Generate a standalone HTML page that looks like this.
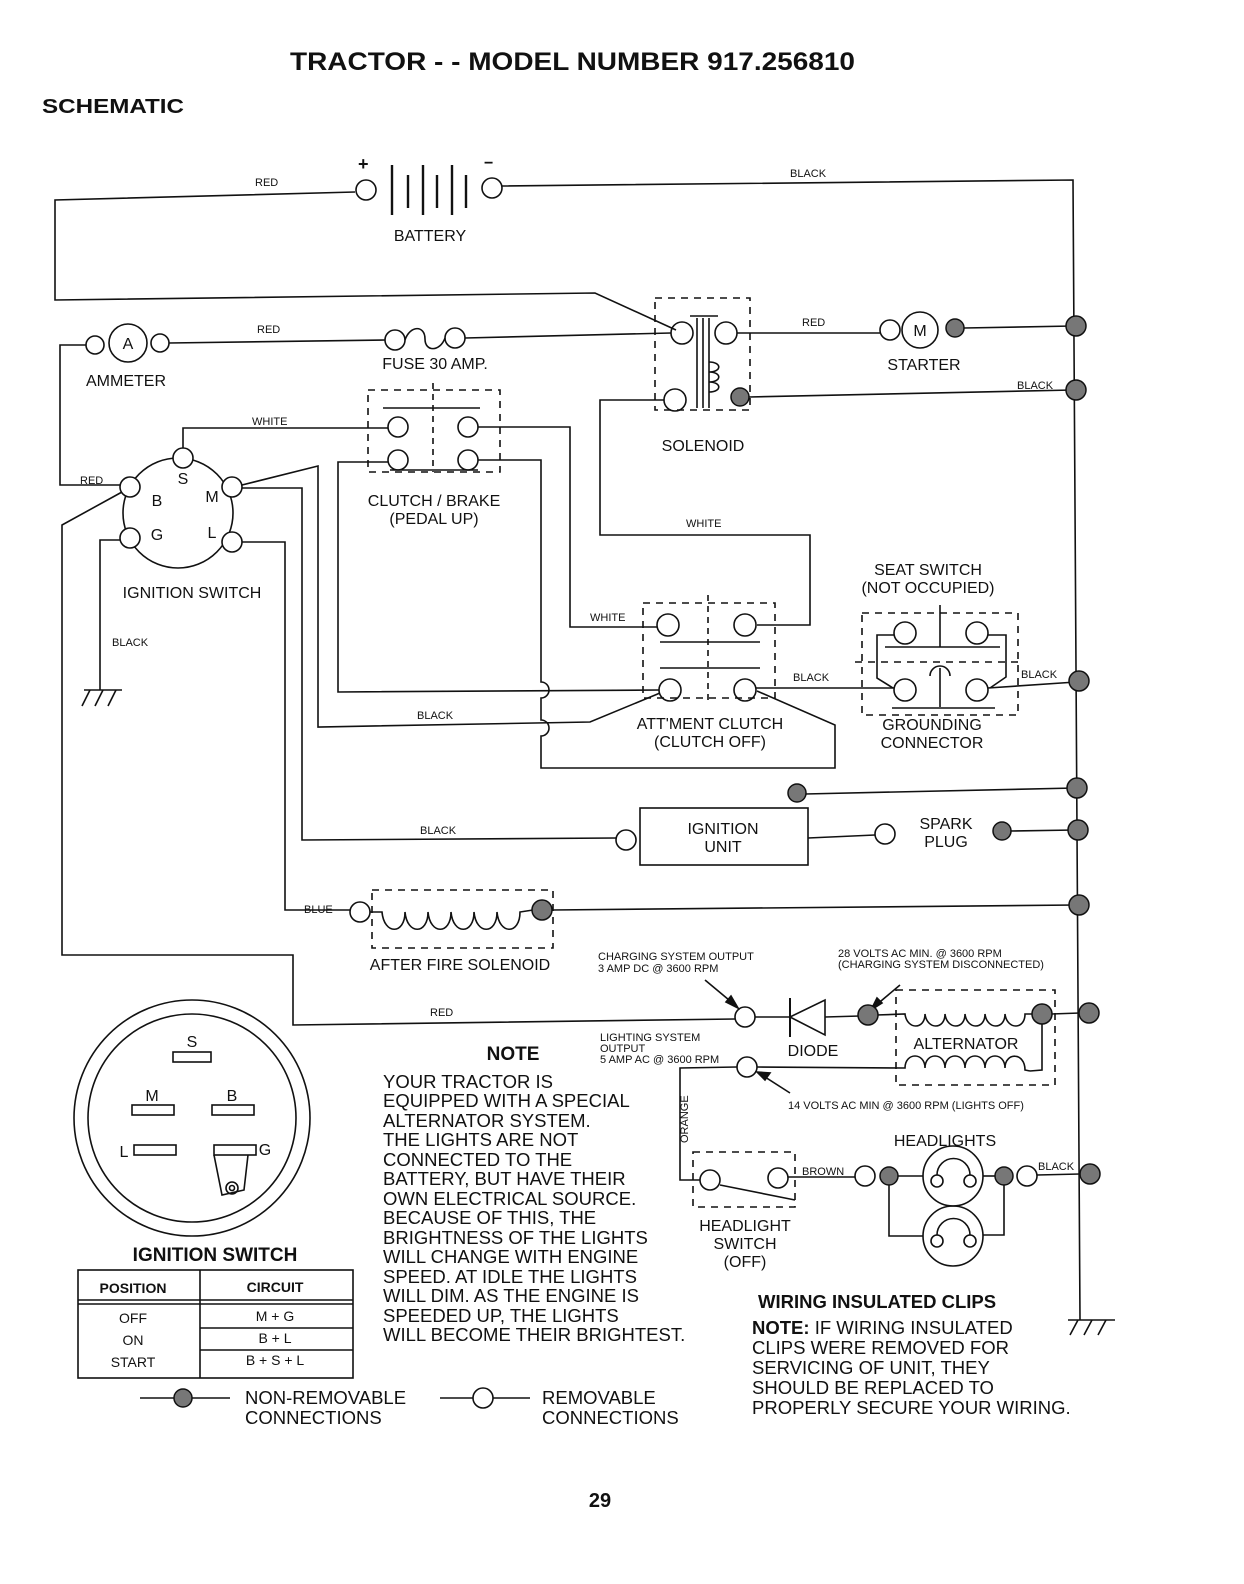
<!DOCTYPE html>
<html><head><meta charset="utf-8"><style>
html,body{margin:0;padding:0;background:#fff}
svg{display:block}
text{font-family:"Liberation Sans",sans-serif;fill:#111}
.s{font-size:11px}
.m{font-size:16px}
.n{font-size:18.5px}
</style></head><body>
<svg width="1244" height="1584" viewBox="0 0 1244 1584" xmlns="http://www.w3.org/2000/svg">
<g stroke="#111" stroke-width="1.6" fill="none">
<polyline points="355,192 55,200 55,300 595,293 676,330"/>
<circle cx="366" cy="190" r="10"/>
<line x1="392" y1="165" x2="392" y2="215" stroke-width="2.4"/>
<line x1="408" y1="175" x2="408" y2="208" stroke-width="2.4"/>
<line x1="423" y1="165" x2="423" y2="215" stroke-width="2.4"/>
<line x1="437" y1="175" x2="437" y2="208" stroke-width="2.4"/>
<line x1="452" y1="165" x2="452" y2="215" stroke-width="2.4"/>
<line x1="466" y1="175" x2="466" y2="208" stroke-width="2.4"/>
<circle cx="492" cy="188" r="10"/>
<polyline points="502,186 1073,180 1080,1320"/>
<line x1="1068" y1="1320" x2="1115" y2="1320"/>
<line x1="1078" y1="1320" x2="1070" y2="1335"/><line x1="1092" y1="1320" x2="1084" y2="1335"/><line x1="1106" y1="1320" x2="1098" y2="1335"/>
<circle cx="95" cy="345" r="9"/><circle cx="128" cy="343" r="19"/><circle cx="160" cy="343" r="9"/>
<line x1="169" y1="343" x2="385" y2="340"/>
<polyline points="86,345 60,345 60,485 120,485"/>
<circle cx="395" cy="340" r="10"/><circle cx="455" cy="338" r="10"/>
<path d="M405,340 C410,325 425,325 425,339 C425,352 440,352 445,338"/>
<line x1="465" y1="338" x2="671" y2="333"/>
<rect x="655" y="298" width="95" height="112" stroke-dasharray="7,6"/>
<circle cx="682" cy="333" r="11"/><circle cx="726" cy="333" r="11"/>
<line x1="690" y1="316" x2="718" y2="316"/>
<line x1="697" y1="318" x2="697" y2="408"/><line x1="703" y1="318" x2="703" y2="408"/><line x1="709" y1="318" x2="709" y2="408"/>
<path d="M709,362 C722,362 722,372 709,372 C722,372 722,382 709,382 C722,382 722,392 709,392"/>
<circle cx="675" cy="400" r="11"/>
<polyline points="664,400 600,400 600,535 810,535 810,625 757,625"/>
<line x1="737" y1="333" x2="880" y2="333"/>
<circle cx="890" cy="330" r="10"/><circle cx="920" cy="330" r="18"/>
<line x1="964" y1="328" x2="1073" y2="326"/>
<line x1="749" y1="397" x2="1073" y2="390"/>
<rect x="368" y="390" width="132" height="82" stroke-dasharray="7,6"/>
<line x1="433" y1="383" x2="433" y2="472" stroke-dasharray="6,5"/>
<line x1="383" y1="408" x2="480" y2="408"/>
<line x1="390" y1="470" x2="478" y2="470"/>
<circle cx="398" cy="427" r="10"/><circle cx="468" cy="427" r="10"/>
<circle cx="398" cy="460" r="10"/><circle cx="468" cy="460" r="10"/>
<circle cx="178" cy="513" r="55"/>
<circle cx="183" cy="458" r="10" fill="#fff"/><circle cx="130" cy="487" r="10" fill="#fff"/><circle cx="232" cy="487" r="10" fill="#fff"/>
<circle cx="130" cy="538" r="10" fill="#fff"/><circle cx="232" cy="542" r="10" fill="#fff"/>
<polyline points="183,448 183,428 388,428"/>
<polyline points="478,427 570,427 570,627 657,627"/>
<path d="M478,460 L541,460 L541,682 A8,8 0 0 1 541,698 L541,720 A8,8 0 0 1 541,736 L541,768 L835,768 L835,725 L757,691"/>
<polyline points="388,462 338,462 338,692 659,690"/>
<polyline points="242,485 318,466 318,727 590,722 660,693"/>
<polyline points="242,488 302,488 302,840 616,838"/>
<polyline points="242,542 285,542 285,910 350,910"/>
<polyline points="120,540 100,540 100,690"/>
<line x1="84" y1="690" x2="122" y2="690"/>
<line x1="90" y1="690" x2="82" y2="706"/><line x1="103" y1="690" x2="95" y2="706"/><line x1="116" y1="690" x2="108" y2="706"/>
<polyline points="122,492 62,525 62,955 293,955 293,1025 735,1019"/>
<rect x="643" y="603" width="132" height="95" stroke-dasharray="7,6"/>
<line x1="708" y1="595" x2="708" y2="700" stroke-dasharray="6,5"/>
<line x1="660" y1="642" x2="760" y2="642"/>
<line x1="660" y1="668" x2="760" y2="668"/>
<circle cx="668" cy="625" r="11"/><circle cx="745" cy="625" r="11"/>
<circle cx="670" cy="690" r="11"/><circle cx="745" cy="690" r="11"/>
<line x1="756" y1="688" x2="894" y2="688"/>
<rect x="862" y="613" width="156" height="102" stroke-dasharray="7,6"/>
<line x1="855" y1="662" x2="1022" y2="662" stroke-dasharray="7,6"/>
<circle cx="905" cy="633" r="11"/><circle cx="977" cy="633" r="11"/>
<circle cx="905" cy="690" r="11"/><circle cx="977" cy="690" r="11"/>
<polyline points="894,635 877,635 877,678 893,688"/>
<polyline points="988,635 1006,635 1006,677 990,688"/>
<line x1="885" y1="647" x2="1000" y2="647"/>
<line x1="940" y1="605" x2="940" y2="647"/>
<path d="M930,676 A10,10 0 0 1 950,676"/>
<line x1="940" y1="668" x2="940" y2="707"/>
<line x1="892" y1="708" x2="995" y2="708"/>
<line x1="988" y1="688" x2="1076" y2="682"/>
<rect x="640" y="808" width="168" height="57"/>
<circle cx="626" cy="840" r="10"/>
<line x1="805" y1="794" x2="1075" y2="788"/>
<line x1="808" y1="838" x2="875" y2="835"/>
<circle cx="885" cy="834" r="10"/>
<line x1="1010" y1="831" x2="1075" y2="830"/>
<circle cx="360" cy="912" r="10"/>
<rect x="372" y="890" width="181" height="58" stroke-dasharray="7,6"/>
<path d="M370,912 L382,912 C384,935 405,935 405,912 C407,935 428,935 428,912 C430,935 451,935 451,912 C453,935 474,935 474,912 C476,935 497,935 497,912 C499,935 520,935 520,912 L533,910"/>
<line x1="552" y1="910" x2="1076" y2="905"/>
<circle cx="745" cy="1017" r="10"/>
<line x1="755" y1="1017" x2="790" y2="1017"/>
<line x1="790" y1="998" x2="790" y2="1037" stroke-width="2"/>
<polygon points="790,1017 825,1000 825,1035"/>
<line x1="825" y1="1017" x2="860" y2="1016"/>
<line x1="705" y1="980" x2="735" y2="1005"/>
<polygon points="738,1008 726,1002 731,996" fill="#111"/>
<line x1="900" y1="985" x2="875" y2="1006"/>
<polygon points="871,1010 877,998 882,1003" fill="#111"/>
<rect x="896" y="990" width="159" height="95" stroke-dasharray="7,6"/>
<path d="M876,1015 L905,1014 C907,1030 925,1030 925,1014 C927,1030 945,1030 945,1014 C947,1030 965,1030 965,1014 C967,1030 985,1030 985,1014 C987,1030 1005,1030 1005,1014 C1007,1030 1025,1030 1025,1014 L1033,1014"/>
<polyline points="1042,1022 1042,1070 1030,1071"/>
<path d="M757,1067 L905,1068 C905,1052 925,1052 925,1068 C925,1052 945,1052 945,1068 C945,1052 965,1052 965,1068 C965,1052 985,1052 985,1068 C985,1052 1005,1052 1005,1068 C1005,1052 1025,1052 1025,1070 L1030,1071"/>
<line x1="1051" y1="1014" x2="1080" y2="1013"/>
<circle cx="747" cy="1067" r="10"/>
<line x1="790" y1="1093" x2="762" y2="1075"/>
<polygon points="757,1072 770,1073 765,1080" fill="#111"/>
<polyline points="737,1067 680,1068 680,1180 700,1180"/>
<rect x="693" y="1152" width="102" height="55" stroke-dasharray="7,6"/>
<circle cx="710" cy="1180" r="10"/><circle cx="778" cy="1178" r="10"/>
<line x1="720" y1="1185" x2="795" y2="1200"/>
<line x1="788" y1="1177" x2="855" y2="1177"/>
<circle cx="865" cy="1176" r="10"/>
<line x1="898" y1="1176" x2="923" y2="1176"/>
<circle cx="953" cy="1176" r="30"/>
<circle cx="937" cy="1181" r="6"/><circle cx="970" cy="1181" r="6"/>
<path d="M937,1175 A16,16 0 0 1 970,1175"/>
<line x1="983" y1="1176" x2="995" y2="1176"/>
<circle cx="953" cy="1236" r="30"/>
<circle cx="937" cy="1241" r="6"/><circle cx="970" cy="1241" r="6"/>
<path d="M937,1235 A16,16 0 0 1 970,1235"/>
<polyline points="889,1185 889,1236 923,1236"/>
<polyline points="1004,1185 1004,1235 983,1235"/>
<circle cx="1027" cy="1176" r="10"/>
<line x1="1037" y1="1175" x2="1080" y2="1174"/>
<circle cx="192" cy="1118" r="118"/>
<circle cx="192" cy="1118" r="104"/>
<rect x="173" y="1052" width="38" height="10"/>
<rect x="132" y="1105" width="42" height="10"/>
<rect x="212" y="1105" width="42" height="10"/>
<rect x="134" y="1145" width="42" height="10"/>
<rect x="214" y="1145" width="42" height="10"/>
<polyline points="214,1155 222,1195 244,1190 248,1155"/>
<circle cx="232" cy="1188" r="6"/><circle cx="232" cy="1188" r="2.5"/>
<rect x="78" y="1270" width="275" height="108"/>
<line x1="200" y1="1270" x2="200" y2="1378"/>
<line x1="78" y1="1300" x2="353" y2="1300"/>
<line x1="78" y1="1304" x2="353" y2="1304"/>
<line x1="200" y1="1328" x2="353" y2="1328"/>
<line x1="200" y1="1350" x2="353" y2="1350"/>
<line x1="140" y1="1398" x2="230" y2="1398"/>
<line x1="440" y1="1398" x2="530" y2="1398"/>
<circle cx="483" cy="1398" r="10" fill="#fff"/>
</g>
<g fill="#777" stroke="#111" stroke-width="1.5">
<circle cx="740" cy="397" r="9"/><circle cx="955" cy="328" r="9"/>
<circle cx="1076" cy="326" r="10"/><circle cx="1076" cy="390" r="10"/>
<circle cx="1079" cy="681" r="10"/><circle cx="797" cy="793" r="9"/>
<circle cx="1077" cy="788" r="10"/><circle cx="1002" cy="831" r="9"/>
<circle cx="1078" cy="830" r="10"/><circle cx="542" cy="910" r="10"/>
<circle cx="1079" cy="905" r="10"/><circle cx="868" cy="1015" r="10"/>
<circle cx="1042" cy="1014" r="10"/><circle cx="1089" cy="1013" r="10"/>
<circle cx="889" cy="1176" r="9"/><circle cx="1004" cy="1176" r="9"/>
<circle cx="1090" cy="1174" r="10"/><circle cx="183" cy="1398" r="9"/>
</g>
<text x="290" y="70" textLength="565" lengthAdjust="spacingAndGlyphs" style="font-size:25px;font-weight:bold">TRACTOR - - MODEL NUMBER 917.256810</text>
<text x="42" y="113" textLength="142" lengthAdjust="spacingAndGlyphs" style="font-size:20px;font-weight:bold">SCHEMATIC</text>
<text x="358" y="170" style="font-size:18px;font-weight:bold">+</text>
<text x="484" y="168" style="font-size:16px;font-weight:bold">−</text>
<g class="s">
<text x="255" y="186">RED</text><text x="790" y="177">BLACK</text>
<text x="257" y="333">RED</text><text x="802" y="326">RED</text>
<text x="1017" y="389">BLACK</text><text x="252" y="425">WHITE</text>
<text x="80" y="484">RED</text><text x="686" y="527">WHITE</text>
<text x="590" y="621">WHITE</text><text x="112" y="646">BLACK</text>
<text x="793" y="681">BLACK</text><text x="1021" y="678">BLACK</text>
<text x="417" y="719">BLACK</text><text x="420" y="834">BLACK</text>
<text x="304" y="913">BLUE</text><text x="430" y="1016">RED</text>
<text x="598" y="960">CHARGING SYSTEM OUTPUT</text><text x="598" y="972">3 AMP DC @ 3600 RPM</text>
<text x="838" y="957">28 VOLTS AC MIN. @ 3600 RPM</text><text x="838" y="968">(CHARGING SYSTEM DISCONNECTED)</text>
<text x="600" y="1041">LIGHTING SYSTEM</text><text x="600" y="1052">OUTPUT</text><text x="600" y="1063">5 AMP AC @ 3600 RPM</text>
<text x="788" y="1109">14 VOLTS AC MIN  @ 3600 RPM (LIGHTS OFF)</text>
<text x="802" y="1175">BROWN</text><text x="1038" y="1170">BLACK</text>
<text transform="translate(688,1143) rotate(-90)">ORANGE</text>
</g>
<g class="m" text-anchor="middle">
<text x="430" y="241">BATTERY</text>
<text x="128" y="349">A</text><text x="920" y="336">M</text>
<text x="126" y="386">AMMETER</text><text x="435" y="369">FUSE 30 AMP.</text>
<text x="924" y="370">STARTER</text><text x="703" y="451">SOLENOID</text>
<text x="434" y="506">CLUTCH / BRAKE</text><text x="434" y="524">(PEDAL UP)</text>
<text x="183" y="484">S</text><text x="157" y="506">B</text><text x="212" y="502">M</text>
<text x="157" y="540">G</text><text x="212" y="538">L</text>
<text x="192" y="598">IGNITION SWITCH</text>
<text x="928" y="575">SEAT SWITCH</text><text x="928" y="593">(NOT OCCUPIED)</text>
<text x="710" y="729">ATT'MENT CLUTCH</text><text x="710" y="747">(CLUTCH OFF)</text>
<text x="932" y="730">GROUNDING</text><text x="932" y="748">CONNECTOR</text>
<text x="723" y="834">IGNITION</text><text x="723" y="852">UNIT</text>
<text x="946" y="829">SPARK</text><text x="946" y="847">PLUG</text>
<text x="460" y="970">AFTER FIRE SOLENOID</text>
<text x="813" y="1056">DIODE</text><text x="966" y="1049">ALTERNATOR</text>
<text x="945" y="1146">HEADLIGHTS</text>
<text x="745" y="1231">HEADLIGHT</text><text x="745" y="1249">SWITCH</text><text x="745" y="1267">(OFF)</text>
<text x="192" y="1047">S</text><text x="152" y="1101">M</text><text x="232" y="1101">B</text>
<text x="124" y="1157">L</text><text x="265" y="1155">G</text>
</g>
<text x="215" y="1261" text-anchor="middle" style="font-size:19px;font-weight:bold">IGNITION SWITCH</text>
<g style="font-size:14px" text-anchor="middle">
<text x="133" y="1293" style="font-weight:bold">POSITION</text><text x="275" y="1292" style="font-weight:bold">CIRCUIT</text>
<text x="133" y="1323">OFF</text><text x="275" y="1321">M + G</text>
<text x="133" y="1345">ON</text><text x="275" y="1343">B + L</text>
<text x="133" y="1367">START</text><text x="275" y="1365">B + S + L</text>
</g>
<text x="513" y="1060" text-anchor="middle" style="font-size:19px;font-weight:bold">NOTE</text>
<g class="n">
<text x="383" y="1088">YOUR TRACTOR IS</text>
<text x="383" y="1107">EQUIPPED WITH A SPECIAL</text>
<text x="383" y="1127">ALTERNATOR SYSTEM.</text>
<text x="383" y="1146">THE LIGHTS ARE NOT</text>
<text x="383" y="1166">CONNECTED TO THE</text>
<text x="383" y="1185">BATTERY, BUT HAVE THEIR</text>
<text x="383" y="1205">OWN ELECTRICAL SOURCE.</text>
<text x="383" y="1224">BECAUSE OF THIS, THE</text>
<text x="383" y="1244">BRIGHTNESS OF THE LIGHTS</text>
<text x="383" y="1263">WILL CHANGE WITH ENGINE</text>
<text x="383" y="1283">SPEED.  AT IDLE THE LIGHTS</text>
<text x="383" y="1302">WILL DIM.  AS THE ENGINE IS</text>
<text x="383" y="1322">SPEEDED UP, THE LIGHTS</text>
<text x="383" y="1341">WILL BECOME THEIR BRIGHTEST.</text>
<text x="758" y="1308" style="font-weight:bold">WIRING INSULATED CLIPS</text>
<text x="752" y="1334"><tspan style="font-weight:bold">NOTE:</tspan> IF WIRING INSULATED</text>
<text x="752" y="1354">CLIPS WERE REMOVED FOR</text>
<text x="752" y="1374">SERVICING OF UNIT, THEY</text>
<text x="752" y="1394">SHOULD BE REPLACED TO</text>
<text x="752" y="1414">PROPERLY SECURE YOUR WIRING.</text>
<text x="245" y="1404">NON-REMOVABLE</text><text x="245" y="1424">CONNECTIONS</text>
<text x="542" y="1404">REMOVABLE</text><text x="542" y="1424">CONNECTIONS</text>
</g>
<text x="600" y="1507" text-anchor="middle" style="font-size:20px;font-weight:bold">29</text>
</svg>
</body></html>
